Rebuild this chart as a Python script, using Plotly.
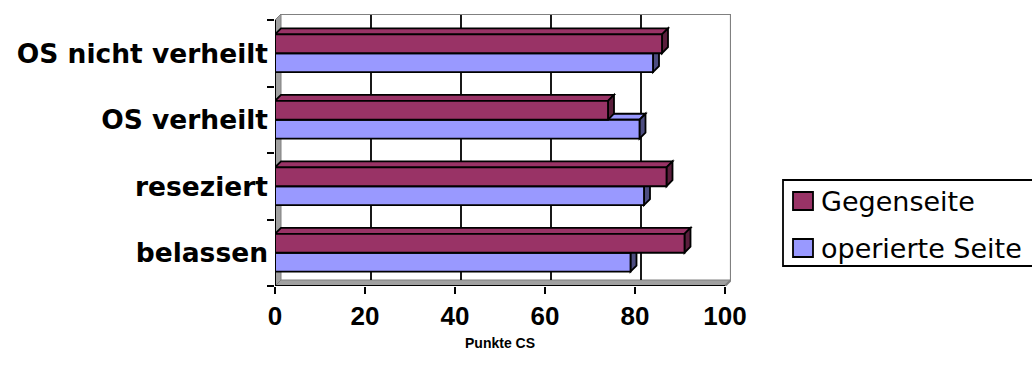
import plotly.graph_objects as go

# Data
categories = ["belassen", "reseziert", "OS verheilt", "OS nicht verheilt"]
gegenseite = [91, 87, 74, 86]
operierte_seite = [79, 82, 81, 84]
x_ticks = [0, 20, 40, 60, 80, 100]
series_names = ["Gegenseite", "operierte Seite"]

# Canvas and plot geometry (pixels)
W, H = 1032, 381
ML, MR, MT, MB = 275, 301, 14, 95
PW = W - ML - MR
PH = H - MT - MB
X_MAX = 100
PX_PER_UNIT = 4.5
DX = PW / PX_PER_UNIT - X_MAX          # depth offset along x (data units)
BAND_PX = 66.5
DY = PH / BAND_PX - len(categories)    # depth offset along y (category units)
BW = 0.285                             # bar thickness (category units)
Y0 = -0.5
Y1 = len(categories) - 0.5

G_FRONT, G_SIDE = "#993366", "#5a1e3c"
O_FRONT, O_SIDE = "#9999ff", "#4d4d80"
WALL_GREY, WALL_EDGE = "#a0a0a0", "#808080"
LW = 1.8

ypos = list(range(len(categories)))


def poly(points):
    return "M " + " L ".join(f"{x},{y}" for x, y in points) + " Z"


def px_x(p):
    return (p - ML) / PW


def px_y(p):
    return (H - MB - p) / PH


shapes = []

# floor
shapes.append(dict(type="path", xref="x", yref="y", layer="below",
                   path=poly([(0, Y0), (X_MAX, Y0), (X_MAX + DX, Y0 + DY), (DX, Y0 + DY)]),
                   fillcolor=WALL_GREY, line=dict(color=WALL_EDGE, width=1)))
# left wall
shapes.append(dict(type="path", xref="x", yref="y", layer="below",
                   path=poly([(0, Y0), (DX, Y0 + DY), (DX, Y1 + DY), (0, Y1)]),
                   fillcolor=WALL_GREY, line=dict(color=WALL_EDGE, width=1)))
# back-wall gridlines
for t in x_ticks[1:-1]:
    shapes.append(dict(type="line", xref="x", yref="y", layer="below",
                       x0=t + DX, x1=t + DX, y0=Y0 + DY, y1=Y1 + DY,
                       line=dict(color="black", width=LW)))
# back-wall outline (top and right edges)
shapes.append(dict(type="path", xref="x", yref="y", layer="below",
                   path=f"M {DX},{Y1 + DY} L {X_MAX + DX},{Y1 + DY} L {X_MAX + DX},{Y0 + DY} L {X_MAX},{Y0}",
                   line=dict(color=WALL_EDGE, width=2.2)))

# depth faces of the bars (top and right side), lower bar first
for i, y in enumerate(ypos):
    for val, off, front, side in ((operierte_seite[i], -BW, O_FRONT, O_SIDE),
                                  (gegenseite[i], 0.0, G_FRONT, G_SIDE)):
        yb, yt = y + off, y + off + BW
        shapes.append(dict(type="path", xref="x", yref="y", layer="below",
                           path=poly([(0, yt), (val, yt), (val + DX, yt + DY), (DX, yt + DY)]),
                           fillcolor=front, line=dict(color="black", width=LW)))
        shapes.append(dict(type="path", xref="x", yref="y", layer="below",
                           path=poly([(val, yb), (val, yt), (val + DX, yt + DY), (val + DX, yb + DY)]),
                           fillcolor=side, line=dict(color="black", width=LW)))

# front axis lines
shapes.append(dict(type="line", xref="x", yref="y", layer="above",
                   x0=0, x1=X_MAX, y0=Y0, y1=Y0, line=dict(color="black", width=2)))
shapes.append(dict(type="line", xref="x", yref="y", layer="above",
                   x0=0, x1=0, y0=Y0, y1=Y1, line=dict(color="black", width=2)))

# legend box and swatches
shapes.append(dict(type="rect", xref="paper", yref="paper", layer="above",
                   x0=px_x(783), x1=px_x(1045), y0=px_y(266), y1=px_y(180),
                   fillcolor="white", line=dict(color="black", width=1.8)))
legend_rows = [(series_names[0], G_FRONT, 201), (series_names[1], O_FRONT, 248)]
annotations = []
for name, col, cy in legend_rows:
    shapes.append(dict(type="rect", xref="paper", yref="paper", layer="above",
                       x0=px_x(793), x1=px_x(813), y0=px_y(cy + 9), y1=px_y(cy - 9),
                       fillcolor=col, line=dict(color="black", width=1.8)))
    annotations.append(dict(xref="paper", yref="paper", x=px_x(819), y=px_y(cy),
                            xanchor="left", yanchor="middle", showarrow=False, text=name,
                            font=dict(family="DejaVu Sans", size=27, color="black")))

# axis title
annotations.append(dict(xref="x", yref="paper", x=50, y=px_y(343), xanchor="center",
                        yanchor="middle", showarrow=False, text="<b>Punkte CS</b>",
                        font=dict(family="Liberation Sans, Arial", size=14, color="black")))

fig = go.Figure()
fig.add_trace(go.Bar(name=series_names[1], y=ypos, x=operierte_seite, orientation="h",
                     width=BW, offset=-BW, marker=dict(color=O_FRONT, line=dict(color="black", width=LW)),
                     showlegend=False))
fig.add_trace(go.Bar(name=series_names[0], y=ypos, x=gegenseite, orientation="h",
                     width=BW, offset=0, marker=dict(color=G_FRONT, line=dict(color="black", width=LW)),
                     showlegend=False))

fig.update_layout(
    width=W, height=H,
    margin=dict(l=ML, r=MR, t=MT, b=MB, pad=0),
    paper_bgcolor="white", plot_bgcolor="white",
    barmode="overlay",
    showlegend=False,
    shapes=shapes,
    annotations=annotations,
    xaxis=dict(range=[0, X_MAX + DX], tickvals=x_ticks, ticktext=[str(t) for t in x_ticks],
               showgrid=False, zeroline=False, showline=False,
               ticks="outside", ticklen=7, tickwidth=2, tickcolor="black",
               tickfont=dict(family="Liberation Sans, Arial", size=26, color="black", weight="bold")),
    yaxis=dict(range=[Y0, Y1 + DY], tickvals=ypos, ticktext=categories,
               showgrid=False, zeroline=False, showline=False, ticks="",
               ticklabelstandoff=6,
               minor=dict(tickvals=[Y0 + k for k in range(len(categories) + 1)], ticks="outside",
                          ticklen=7, tickwidth=2, tickcolor="black", showgrid=False),
               tickfont=dict(family="DejaVu Sans", size=26.5, color="black", weight="bold")),
)

fig.write_html("out.html")
